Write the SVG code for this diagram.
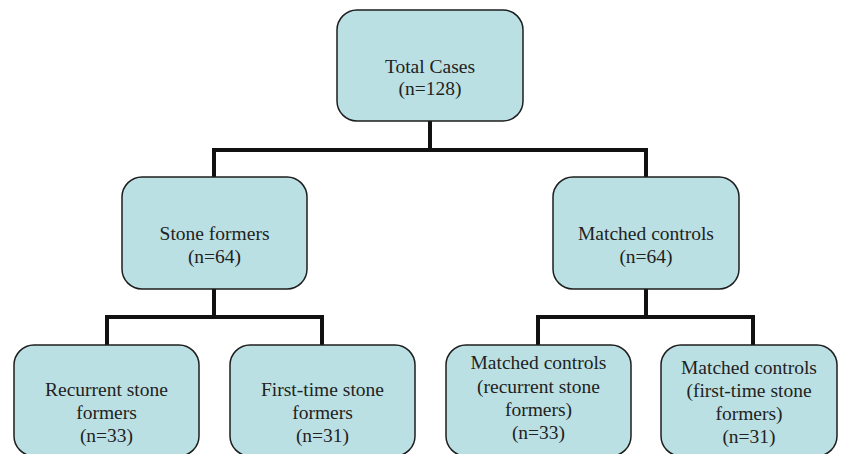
<svg xmlns="http://www.w3.org/2000/svg" width="846" height="454" viewBox="0 0 846 454">
<style>
.box{fill:#bbe0e3;stroke:#1e1e1e;stroke-width:1.5}
.t{font-family:'Liberation Serif','Tinos','Nimbus Roman','Times New Roman','DejaVu Serif',serif;font-size:19.5px;fill:#222;text-anchor:middle}
.c{fill:none;stroke:#111;stroke-width:4;stroke-linecap:square}
</style>
<rect width="846" height="454" fill="#fff"/>
<g id="connectors">
<path class="c" d="M430 121V150M214 150H646M214 150V177M646 150V177"/>
<path class="c" d="M214 289V317M107 317H322M107 317V345M322 317V345"/>
<path class="c" d="M646 289V317M538 317H753M538 317V345M753 317V345"/>
</g>
<g id="total">
<rect class="box" x="337" y="10" width="186" height="111" rx="20"/>
<text class="t" x="430" y="73">Total Cases</text>
<text class="t" x="430" y="95">(n=128)</text>
</g>
<g id="stone">
<rect class="box" x="122" y="177" width="185" height="112" rx="20"/>
<text class="t" x="214.5" y="240">Stone formers</text>
<text class="t" x="214.5" y="263">(n=64)</text>
</g>
<g id="matched">
<rect class="box" x="553" y="177" width="186" height="112" rx="20"/>
<text class="t" x="646" y="240">Matched controls</text>
<text class="t" x="646" y="263">(n=64)</text>
</g>
<g id="recurrent">
<rect class="box" x="14" y="345" width="185" height="111" rx="20"/>
<text class="t" x="106.5" y="396">Recurrent stone</text>
<text class="t" x="106.5" y="419">formers</text>
<text class="t" x="106.5" y="442">(n=33)</text>
</g>
<g id="firsttime">
<rect class="box" x="230" y="345" width="185" height="111" rx="20"/>
<text class="t" x="322.5" y="396">First-time stone</text>
<text class="t" x="322.5" y="419">formers</text>
<text class="t" x="322.5" y="442">(n=31)</text>
</g>
<g id="mc-recurrent">
<rect class="box" x="446" y="345" width="185" height="111" rx="20"/>
<text class="t" x="538.5" y="369">Matched controls</text>
<text class="t" x="538.5" y="393">(recurrent stone</text>
<text class="t" x="538.5" y="416">formers)</text>
<text class="t" x="538.5" y="439">(n=33)</text>
</g>
<g id="mc-firsttime">
<rect class="box" x="661" y="345" width="176" height="111" rx="20"/>
<text class="t" x="749" y="374">Matched controls</text>
<text class="t" x="749" y="397">(first-time stone</text>
<text class="t" x="749" y="420">formers)</text>
<text class="t" x="749" y="443">(n=31)</text>
</g>
</svg>
